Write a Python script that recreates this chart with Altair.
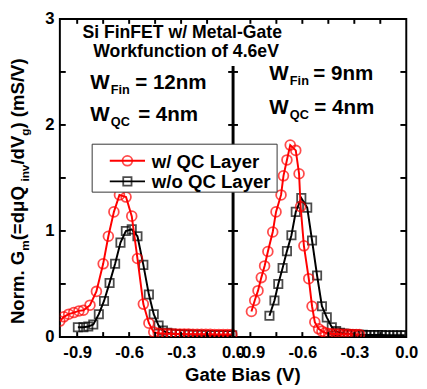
import altair as alt
import pandas as pd

# ---------------- data ----------------
panels = ["12nm", "9nm"]
series_names = ["w/ QC Layer", "w/o QC Layer"]

# W_Fin = 12 nm panel
vg_12_qc = [-1.000, -0.977, -0.949, -0.920, -0.890, -0.864, -0.826, -0.789, -0.750, -0.720,
            -0.688, -0.656, -0.618, -0.585, -0.552, -0.518, -0.486, -0.458, -0.432, -0.407,
            -0.382, -0.357, -0.332, -0.307, -0.282, -0.257, -0.232, -0.207, -0.182, -0.157,
            -0.132, -0.107, -0.082, -0.057, -0.032, -0.007]
gm_12_qc = [0.15, 0.19, 0.215, 0.23, 0.246, 0.252, 0.30, 0.43, 0.69, 0.95,
            1.18, 1.34, 1.32, 1.14, 0.74, 0.31, 0.13, 0.046, 0.035, 0.032,
            0.030, 0.030, 0.028, 0.028, 0.027, 0.027, 0.026, 0.026, 0.025, 0.025,
            0.025, 0.024, 0.024, 0.024, 0.023, 0.023]

vg_12_noqc = [-0.896, -0.864, -0.836, -0.807, -0.775, -0.745, -0.713, -0.681, -0.650, -0.619,
              -0.585, -0.552, -0.518, -0.486, -0.458, -0.430, -0.405, -0.380, -0.355, -0.330,
              -0.305, -0.280, -0.255, -0.230, -0.205, -0.180, -0.155, -0.130, -0.105, -0.080,
              -0.055, -0.030, -0.005]
gm_12_noqc = [0.092, 0.092, 0.099, 0.117, 0.215, 0.34, 0.51, 0.69, 0.89, 1.00,
              1.015, 0.95, 0.68, 0.40, 0.215, 0.108, 0.060, 0.040, 0.032, 0.028,
              0.025, 0.023, 0.022, 0.021, 0.020, 0.020, 0.019, 0.019, 0.018, 0.018,
              0.018, 0.017, 0.017]

# W_Fin = 9 nm panel
vg_9_qc = [-0.894, -0.875, -0.856, -0.837, -0.818, -0.799, -0.771, -0.752, -0.723, -0.709,
           -0.689, -0.670, -0.638, -0.619, -0.610, -0.591, -0.563, -0.544, -0.528, -0.506,
           -0.487, -0.468, -0.448, -0.428, -0.408, -0.388, -0.368, -0.348, -0.328, -0.308,
           -0.288, -0.270]
gm_9_qc = [0.24, 0.344, 0.437, 0.56, 0.67, 0.806, 0.99, 1.18, 1.34, 1.52,
           1.67, 1.81, 1.76, 1.54, 1.23, 0.86, 0.55, 0.29, 0.14, 0.077,
           0.055, 0.040, 0.033, 0.030, 0.028, 0.027, 0.026, 0.025, 0.025, 0.024,
           0.024, 0.024]

vg_9_noqc = [-0.790, -0.761, -0.739, -0.714, -0.689, -0.663, -0.638, -0.606, -0.572, -0.544,
             -0.515, -0.487, -0.459, -0.430, -0.405, -0.383, -0.361, -0.339, -0.317, -0.295,
             -0.273, -0.251, -0.229, -0.207, -0.185, -0.163, -0.141, -0.119, -0.097, -0.075,
             -0.053, -0.031, -0.009]
gm_9_noqc = [0.20, 0.344, 0.50, 0.65, 0.81, 0.96, 1.18, 1.31, 1.22, 0.91,
             0.58, 0.29, 0.185, 0.092, 0.055, 0.040, 0.032, 0.028, 0.025, 0.022,
             0.020, 0.020, 0.019, 0.019, 0.018, 0.018, 0.018, 0.017, 0.017, 0.017,
             0.017, 0.016, 0.016]

x_label_values = [-0.9, -0.6, -0.3, 0.0]
x_minor_ticks = [-0.9, -0.75, -0.6, -0.45, -0.3, -0.15]
y_label_values = [0, 1, 2, 3]
y_ticks = [0.5, 1.0, 1.5, 2.0, 2.5]

# ---------------- layout ----------------
W, H = 354, 325
FONT = "Liberation Sans"
shift = {"12nm": 0.0, "9nm": 1.0}   # right panel drawn on [0, 1] of a shared [-1, 1] scale

rows = []
for panel, series, xs, ys in [
    ("12nm", series_names[0], vg_12_qc, gm_12_qc),
    ("12nm", series_names[1], vg_12_noqc, gm_12_noqc),
    ("9nm", series_names[0], vg_9_qc, gm_9_qc),
    ("9nm", series_names[1], vg_9_noqc, gm_9_noqc),
]:
    for v, g in zip(xs, ys):
        rows.append({"panel": panel, "series": series, "vg": v, "gm": g,
                     "xc": v + shift[panel]})
df = pd.DataFrame(rows)

xscale = alt.Scale(domain=[-1, 1], nice=False, zero=False)
yscale = alt.Scale(domain=[0, 3], nice=False, zero=False)

lab_vals = [v + shift[p] for p in panels for v in x_label_values]
lab_expr = ("datum.value > 0.05 ? ((datum.value - 1) < -0.001 ? '-' : '') + format(abs(datum.value - 1), '.1f')"
            " : (datum.value < -0.001 ? '-' : '') + format(abs(datum.value), '.1f')")

x_axis = alt.Axis(values=lab_vals, labelExpr=lab_expr, ticks=False, tickSize=0, domain=False,
                  grid=False, title=None, labelFont=FONT, labelFontSize=17, labelFontWeight="bold",
                  labelColor="black", labelPadding=8, labelOverlap=False, labelFlush=False,
                  labelBound=False)
y_axis = alt.Axis(values=y_label_values, format="d", ticks=False, tickSize=0, domain=False,
                  grid=False, title=None, labelFont=FONT, labelFontSize=17, labelFontWeight="bold",
                  labelColor="black", labelPadding=6)

def X(field):
    return alt.X(field, scale=xscale, axis=x_axis, title=None)

def Y(field):
    return alt.Y(field, scale=yscale, axis=y_axis, title=None)

base = alt.Chart(df)
qc = alt.datum.series == series_names[0]
noqc = alt.datum.series == series_names[1]

black_line = base.transform_filter(noqc).mark_line(
    color="black", strokeWidth=2, clip=True).encode(x=X("xc:Q"), y=Y("gm:Q"), detail="panel:N")
black_pts = base.transform_filter(noqc).mark_point(
    shape="square", size=72, filled=False, color="black", strokeWidth=1.8, clip=True).encode(
    x=X("xc:Q"), y=Y("gm:Q"))
red_line = base.transform_filter(qc).mark_line(
    color="#ff0000", strokeWidth=2, clip=True).encode(x=X("xc:Q"), y=Y("gm:Q"), detail="panel:N")
red_pts = base.transform_filter(qc).mark_point(
    shape="circle", size=100, filled=False, color="#ff0000", strokeWidth=1.8, clip=True).encode(
    x=X("xc:Q"), y=Y("gm:Q"))

# frame ticks (inward)
ytick_df = pd.DataFrame({"gm": y_ticks})
xtick_df = pd.DataFrame({"xc": [v + shift[p] for p in panels for v in x_minor_ticks]})

def yticks(x0, x1):
    return alt.Chart(ytick_df).mark_rule(color="black", strokeWidth=2).encode(
        y=Y("gm:Q"), x=alt.value(x0), x2=alt.value(x1))

def xticks(y0, y1):
    return alt.Chart(xtick_df).mark_rule(color="black", strokeWidth=2).encode(
        x=X("xc:Q"), y=alt.value(y0), y2=alt.value(y1))

divider = alt.Chart(pd.DataFrame({"xc": [0.0]})).mark_rule(color="black", strokeWidth=3).encode(
    x=X("xc:Q"), y=alt.value(48), y2=alt.value(H))

frame = [yticks(0, 6), yticks(W, W - 6), yticks(W / 2 - 5, W / 2 + 5),
         xticks(H, H - 5), xticks(0, 5), divider]

# text helper
def txt(s, x, y, size, angle=0, align="left", baseline="alphabetic", color="black"):
    return alt.Chart(pd.DataFrame({"s": [s]})).mark_text(
        align=align, baseline=baseline, font=FONT, fontSize=size, fontWeight="bold",
        angle=angle, color=color).encode(text="s:N", x=alt.value(x), y=alt.value(y))

texts = [
    txt("Si FinFET w/ Metal-Gate", 125, 19, 18, align="center"),
    txt("Workfunction of 4.6eV", 129, 39, 18, align="center"),
    # left panel
    txt("W", 31, 72, 21), txt("Fin", 52, 77, 13), txt("= 12nm", 77, 72, 21),
    txt("W", 31, 104, 21), txt("QC", 52, 109, 13), txt("= 4nm", 80, 104, 21),
    # right panel
    txt("W", 214, 62, 21), txt("Fin", 235, 67, 13), txt("= 9nm", 259, 62, 21),
    txt("W", 214, 97, 21), txt("QC", 235, 102, 13), txt("= 4nm", 260, 97, 21),
    # x title
    txt("Gate Bias (V)", 187, 370, 19, align="center"),
]

# rotated y title with subscripts (text runs bottom to top)
AW = {"N": .722, "o": .611, "r": .389, "m": .889, ".": .278, " ": .278, "G": .778, "(": .333,
      "=": .584, "d": .611, "μ": .576, "Q": .778, "i": .278, "n": .611, "v": .556, "/": .278,
      "V": .667, "g": .611, ")": .333, "S": .667}
pieces = [("Norm. G", False), ("m", True), (" (=dμQ", False), ("inv", True), ("/dV", False),
          ("g", True), (") (mS/V)", False)]
F_MAIN, F_SUB = 19, 12
widths = [sum(AW[c] for c in s) * (F_SUB if sub else F_MAIN) for s, sub in pieces]
ypos = 176 + sum(widths) / 2
for (s, sub), w in zip(pieces, widths):
    texts.append(txt(s, -32 if sub else -37, ypos, F_SUB if sub else F_MAIN, angle=270))
    ypos -= w

# legend
one = pd.DataFrame({"a": [0]})
legend = [
    alt.Chart(one).mark_rect(fill="white", stroke="#333333", strokeWidth=1).encode(
        x=alt.value(33), x2=alt.value(222), y=alt.value(128), y2=alt.value(177)),
    alt.Chart(one).mark_rule(color="#ff0000", strokeWidth=2).encode(
        x=alt.value(51), x2=alt.value(87), y=alt.value(145)),
    alt.Chart(one).mark_point(shape="circle", size=100, filled=False, color="#ff0000",
                              strokeWidth=1.8).encode(x=alt.value(69), y=alt.value(145)),
    alt.Chart(one).mark_rule(color="black", strokeWidth=2).encode(
        x=alt.value(51), x2=alt.value(87), y=alt.value(166)),
    alt.Chart(one).mark_point(shape="square", size=72, filled=False, color="black",
                              strokeWidth=1.8).encode(x=alt.value(69), y=alt.value(166)),
    txt(series_names[0], 94, 152, 19),
    txt(series_names[1], 94, 173, 19),
]

chart = alt.layer(black_line, black_pts, red_line, red_pts, *frame, *legend, *texts).properties(
    width=W, height=H,
    autosize=alt.AutoSizeParams(type="none"),
    padding={"left": 53, "top": 7, "right": 13, "bottom": 50},
    background="white",
).configure_view(stroke="black", strokeWidth=2)

chart.save("out.html", embed_options={"renderer": "svg", "actions": False})
